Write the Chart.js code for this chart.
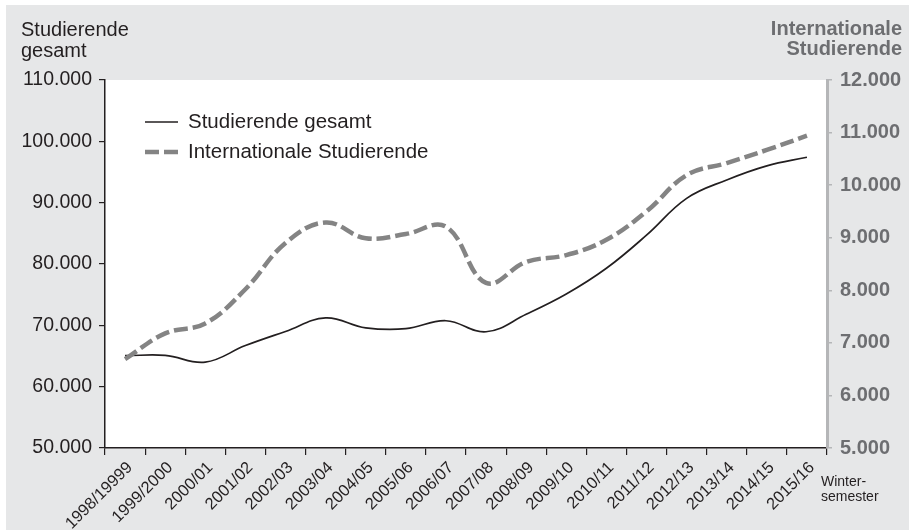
<!DOCTYPE html>
<html lang="de">
<head>
<meta charset="utf-8">
<title>Studierende gesamt und internationale Studierende</title>
<script src="https://cdn.jsdelivr.net/npm/chart.js@4.4.1/dist/chart.umd.min.js"></script>
<style>
  html, body { margin: 0; padding: 0; background: #ffffff; }
  #wrap { width: 909px; height: 530px; }
</style>
</head>
<body>
<div id="wrap"><canvas id="chart" width="909" height="530"></canvas></div>
<script>
// --- Daten (Wintersemester) ---
const semesters = [
    '1998/19999', '1999/2000', '2000/01', '2001/02', '2002/03', '2003/04',
    '2004/05', '2005/06', '2006/07', '2007/08', '2008/09', '2009/10',
    '2010/11', '2011/12', '2012/13', '2013/14', '2014/15', '2015/16'
];
const gesamt = [
    65050, 65100, 64000, 66700, 69000, 71200, 69600, 69450, 70750,
    68950, 71800, 75100, 79300, 84700, 90700, 93700, 96000, 97400
];
const international = [
    6690, 7180, 7370, 8020, 8900, 9290, 8990, 9070, 9210,
    8140, 8540, 8670, 8960, 9500, 10190, 10420, 10670, 10940
];
const leftRange = { min: 50000, max: 110000, step: 10000 };
const rightRange = { min: 5000, max: 12000, step: 1000 };

const FONT = "'Liberation Sans', Arial, sans-serif";
const DARK = '#231f20';
const GREY = '#6d6e71';
const BG = '#e6e7e8';

// 12000 -> "12.000"
function fmt(v) {
    return String(Math.round(v)).replace(/\B(?=(\d{3})+(?!\d))/g, '.');
}

const backdrop = {
    id: 'backdrop',
    beforeDraw(c) {
        const { ctx, chartArea: a } = c;
        ctx.save();
        ctx.fillStyle = '#ffffff';
        ctx.fillRect(0, 0, c.width, c.height);
        ctx.fillStyle = BG;
        ctx.fillRect(6, 5, c.width - 6, c.height - 5);
        ctx.fillStyle = '#ffffff';
        ctx.fillRect(a.left, a.top, a.right - a.left, a.bottom - a.top);
        ctx.restore();
    }
};

const texts = {
    id: 'texts',
    afterDraw(c) {
        const ctx = c.ctx;
        ctx.save();
        ctx.textBaseline = 'alphabetic';

        // left axis title
        ctx.fillStyle = DARK;
        ctx.font = `20px ${FONT}`;
        ctx.textAlign = 'left';
        ctx.fillText('Studierende', 21, 36);
        ctx.fillText('gesamt', 21, 57);

        // right axis title
        ctx.fillStyle = GREY;
        ctx.font = `bold 20px ${FONT}`;
        ctx.textAlign = 'right';
        ctx.fillText('Internationale', 902, 35);
        ctx.fillText('Studierende', 902, 55);

        // x axis unit
        ctx.fillStyle = DARK;
        ctx.font = `14px ${FONT}`;
        ctx.textAlign = 'left';
        ctx.fillText('Winter-', 821, 486);
        ctx.fillText('semester', 821, 501);

        // legend
        ctx.font = `20.5px ${FONT}`;
        ctx.textBaseline = 'middle';
        c.data.datasets.forEach((ds, i) => {
            const y = 122 + i * 30;
            ctx.beginPath();
            ctx.strokeStyle = ds.borderColor;
            ctx.lineWidth = ds.borderWidth;
            ctx.setLineDash(ds.borderDash || []);
            ctx.moveTo(145, y);
            ctx.lineTo(178, y);
            ctx.stroke();
            ctx.setLineDash([]);
            ctx.fillStyle = DARK;
            ctx.fillText(ds.label, 188, y);
        });
        ctx.restore();
    }
};

new Chart(document.getElementById('chart'), {
    type: 'line',
    data: {
        labels: semesters,
        datasets: [
            {
                label: 'Studierende gesamt',
                data: gesamt,
                yAxisID: 'y',
                borderColor: DARK,
                borderWidth: 1.7,
                tension: 0.4,
                pointRadius: 0,
                order: 2
            },
            {
                label: 'Internationale Studierende',
                data: international,
                yAxisID: 'y2',
                borderColor: '#848484',
                borderWidth: 4.5,
                borderDash: [14, 5],
                tension: 0.4,
                pointRadius: 0,
                order: 1
            }
        ]
    },
    options: {
        responsive: false,
        animation: false,
        layout: { padding: { top: 80, left: 0, right: 0, bottom: 0 } },
        plugins: { legend: { display: false }, tooltip: { enabled: false } },
        scales: {
            x: {
                offset: true,
                afterFit: s => { s.height = 82; },
                border: { color: DARK, width: 1.5 },
                grid: { offset: true, drawOnChartArea: false, tickLength: 7, color: DARK, lineWidth: 1.2 },
                ticks: {
                    autoSkip: false, minRotation: 45, maxRotation: 45, padding: 3, labelOffset: 5,
                    color: DARK, font: { family: FONT, size: 16.5 }
                }
            },
            y: {
                position: 'left',
                min: leftRange.min, max: leftRange.max,
                afterFit: s => { s.width = 105; },
                border: { color: DARK, width: 1.5 },
                grid: { drawOnChartArea: false, tickLength: 6, color: DARK, lineWidth: 1.2 },
                ticks: {
                    stepSize: leftRange.step, padding: 7, color: DARK,
                    font: { family: FONT, size: 19.5 },
                    callback: v => fmt(v)
                }
            },
            y2: {
                position: 'right',
                min: rightRange.min, max: rightRange.max,
                afterFit: s => { s.width = 82; },
                border: { color: '#b5b6b8', width: 3 },
                grid: { drawOnChartArea: false, tickLength: 5, color: '#b5b6b8', lineWidth: 1.5 },
                ticks: {
                    stepSize: rightRange.step, padding: 8, color: GREY,
                    font: { family: FONT, size: 20, weight: 'bold' },
                    callback: v => fmt(v)
                }
            }
        }
    },
    plugins: [backdrop, texts]
});
</script>
</body>
</html>
